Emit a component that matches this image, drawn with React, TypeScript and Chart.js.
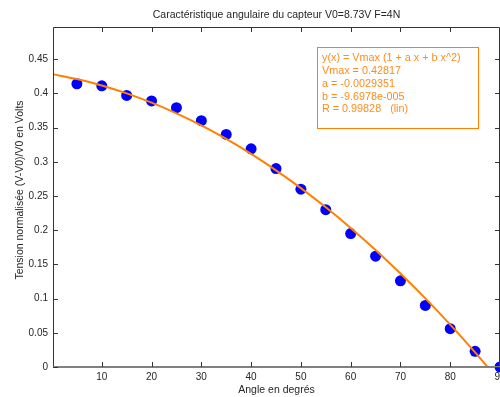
import React, { useEffect, useRef } from "react";
import { Chart, registerables } from "chart.js";

Chart.register(...registerables);

const TITLE = "Caractéristique angulaire du capteur V0=8.73V F=4N";
const X_TITLE = "Angle en degrés";
const Y_TITLE = "Tension normalisée (V-V0)/V0 en Volts";

// measured points
const angles = [5, 10, 15, 20, 25, 30, 35, 40, 45, 50, 55, 60, 65, 70, 75, 80, 85, 90];
const tension = [0.414, 0.411, 0.397, 0.389, 0.379, 0.36, 0.34, 0.319, 0.29, 0.26, 0.23, 0.195, 0.162, 0.126, 0.09, 0.056, 0.023, 0.0];

// fitted curve
const fitAngles = [0, 5, 10, 15, 20, 25, 30, 35, 40, 45, 50, 55, 60, 65, 70, 75, 80, 85, 87.5];
const fitValues = [0.4282, 0.4209, 0.4115, 0.4, 0.3864, 0.3708, 0.3531, 0.3333, 0.3115, 0.2875, 0.2615, 0.2334, 0.2033, 0.1711, 0.1367, 0.1003, 0.0619, 0.0213, 0.0];

const xTicks = [10, 20, 30, 40, 50, 60, 70, 80, 90];
const yTicks = [0, 0.05, 0.1, 0.15, 0.2, 0.25, 0.3, 0.35, 0.4, 0.45];
const yTickLabels = ["0", "0.05", "0.1", "0.15", "0.2", "0.25", "0.3", "0.35", "0.4", "0.45"];

const fitText = [
  "y(x) = Vmax (1 + a x + b x^2)",
  "Vmax = 0.42817",
  "a = -0.0029351",
  "b = -9.6978e-005",
  "R = 0.99828   (lin)",
];

const FONT = "'Liberation Sans', Arial, Helvetica, sans-serif";
const TEXT_COLOR = "#262626";
const ORANGE = "#FF8000";

const decor = {
  id: "decor",
  afterDraw(chart: any) {
    const { ctx, chartArea: a, scales } = chart;
    const xs = scales.x;
    const ys = scales.y;
    ctx.save();
    // axes box
    ctx.strokeStyle = "#333333";
    ctx.lineWidth = 1;
    ctx.beginPath();
    ctx.moveTo(a.left + 0.5, a.top + 0.5);
    ctx.lineTo(a.right - 0.5, a.top + 0.5);
    ctx.lineTo(a.right - 0.5, a.bottom);
    ctx.moveTo(a.left + 0.5, a.top + 0.5);
    ctx.lineTo(a.left + 0.5, a.bottom);
    ctx.stroke();
    ctx.strokeStyle = "#808080";
    ctx.lineWidth = 2;
    ctx.beginPath();
    ctx.moveTo(a.left, a.bottom);
    ctx.lineTo(a.right, a.bottom);
    ctx.stroke();
    // inward ticks
    ctx.strokeStyle = "#333333";
    ctx.lineWidth = 1;
    ctx.beginPath();
    const tl = 5;
    xTicks.forEach((v) => {
      const px = Math.round(xs.getPixelForValue(v)) + 0.5;
      ctx.moveTo(px, a.bottom);
      ctx.lineTo(px, a.bottom - tl);
      ctx.moveTo(px, a.top);
      ctx.lineTo(px, a.top + tl);
    });
    yTicks.forEach((v) => {
      const py = Math.round(ys.getPixelForValue(v)) + 0.5;
      ctx.moveTo(a.left, py);
      ctx.lineTo(a.left + tl, py);
      ctx.moveTo(a.right, py);
      ctx.lineTo(a.right - tl, py);
    });
    ctx.stroke();

    // titles
    const cx = (a.left + a.right) / 2;
    ctx.fillStyle = TEXT_COLOR;
    ctx.font = `10.5px ${FONT}`;
    ctx.textAlign = "center";
    ctx.textBaseline = "middle";
    ctx.fillText(TITLE, cx, 15);
    ctx.fillText(X_TITLE, cx, 390);
    ctx.save();
    ctx.translate(20, 190);
    ctx.rotate(-Math.PI / 2);
    ctx.fillText(Y_TITLE, 0, 0);
    ctx.restore();

    // fit annotation box
    ctx.fillStyle = "#ffffff";
    ctx.fillRect(317, 47, 161, 81);
    ctx.strokeStyle = ORANGE;
    ctx.lineWidth = 1;
    ctx.strokeRect(317.5, 47.5, 161, 81);
    ctx.fillStyle = "#FF8C1A";
    ctx.font = `10.8px ${FONT}`;
    ctx.textAlign = "left";
    ctx.textBaseline = "middle";
    fitText.forEach((t, i) => {
      ctx.fillText(t, 322, 58.5 + i * 12.7);
    });
    ctx.restore();
  },
};

export default function App() {
  const ref = useRef<HTMLCanvasElement>(null);
  useEffect(() => {
    document.body.style.margin = "0";
    document.body.style.overflow = "hidden";
    if (!ref.current) return;
    const chart = new Chart(ref.current, {
      type: "scatter",
      data: {
        datasets: [
          {
            label: "fit",
            data: fitAngles.map((x, i) => ({ x, y: fitValues[i] })),
            showLine: true,
            borderColor: ORANGE,
            backgroundColor: ORANGE,
            borderWidth: 2,
            pointRadius: 0,
            cubicInterpolationMode: "monotone",
            order: 0,
          } as any,
          {
            label: "mesures",
            data: angles.map((x, i) => ({ x, y: tension[i] })),
            backgroundColor: "#0000FF",
            borderColor: "#0000FF",
            pointRadius: 5.5,
            pointBorderWidth: 0,
            clip: false,
            order: 1,
          } as any,
        ],
      },
      options: {
        animation: false,
        responsive: false,
        maintainAspectRatio: false,
        devicePixelRatio: 1,
        layout: { padding: { top: 27, left: 0, right: 60, bottom: 0 } },
        plugins: {
          legend: { display: false },
          tooltip: { enabled: false },
          title: { display: false },
        },
        scales: {
          x: {
            type: "linear",
            min: 0.2,
            max: 90,
            afterBuildTicks: (s: any) => {
              s.ticks = xTicks.map((v) => ({ value: v }));
            },
            afterFit: (s: any) => {
              s.height = 30;
            },
            grid: { display: false, drawTicks: false },
            border: { display: false },
            ticks: {
              color: TEXT_COLOR,
              font: { family: FONT, size: 10 },
              padding: 4,
              maxRotation: 0,
              autoSkip: false,
              callback: (v: any) => String(v),
            },
          },
          y: {
            type: "linear",
            min: 0,
            max: 0.497,
            afterBuildTicks: (s: any) => {
              s.ticks = yTicks.map((v) => ({ value: v }));
            },
            afterFit: (s: any) => {
              s.width = 53;
            },
            grid: { display: false, drawTicks: false },
            border: { display: false },
            ticks: {
              color: TEXT_COLOR,
              font: { family: FONT, size: 10 },
              padding: 5,
              autoSkip: false,
              callback: (v: any, i: number) => yTickLabels[i],
            },
          },
        },
      } as any,
      plugins: [decor],
    });
    return () => chart.destroy();
  }, []);

  return (
    <div style={{ width: 500, height: 397, overflow: "hidden", position: "relative", background: "#fff" }}>
      <canvas ref={ref} width={560} height={397} style={{ display: "block" }} />
    </div>
  );
}
